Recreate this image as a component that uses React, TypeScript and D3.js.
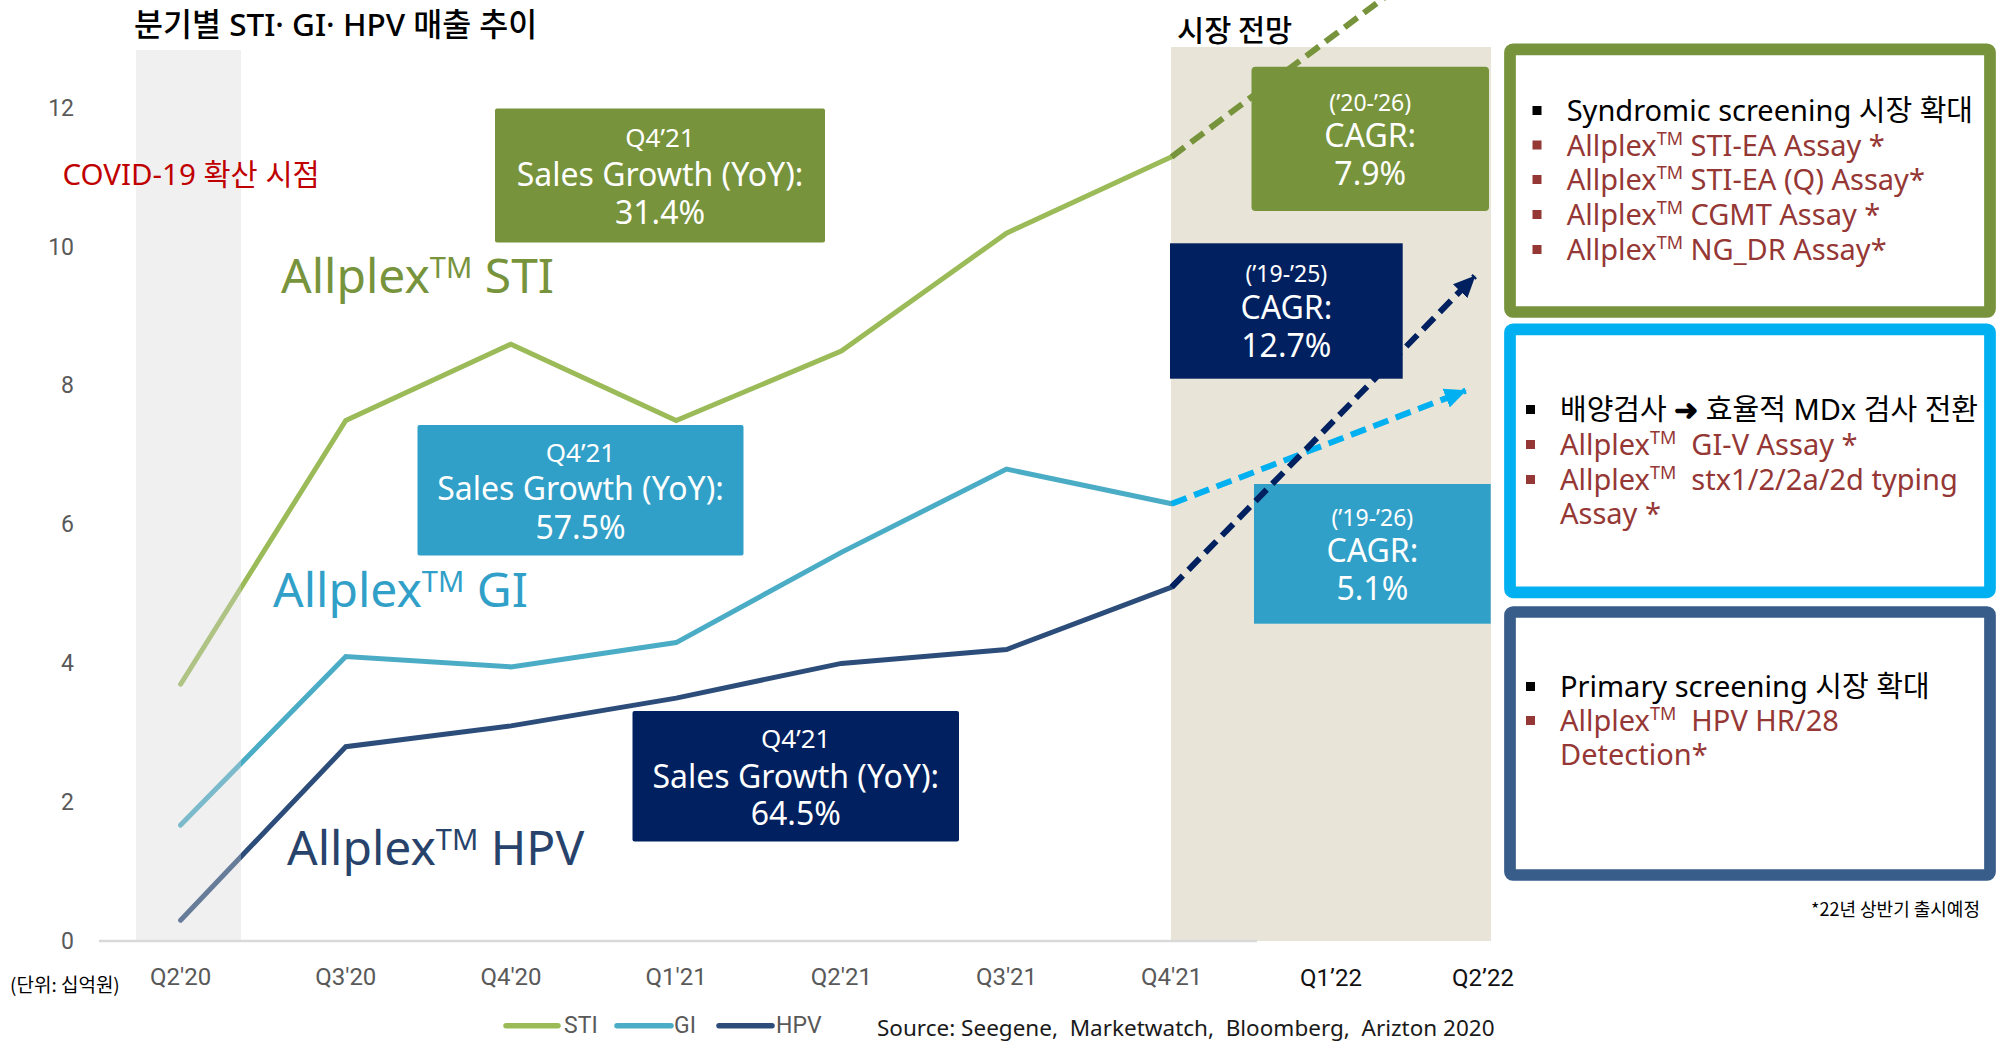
import React from "react";
import * as d3 from "d3";

// ---------------- DATA ----------------
const quarters = ["Q2'20", "Q3'20", "Q4'20", "Q1'21", "Q2'21", "Q3'21", "Q4'21"];
const forecastQuarters = ["Q1\u201922", "Q2\u201922"];
const yTicks = [0, 2, 4, 6, 8, 10, 12];

const stiSales = [3.7, 7.5, 8.6, 7.5, 8.5, 10.2, 11.3];
const giSales = [1.67, 4.1, 3.95, 4.3, 5.6, 6.8, 6.3];
const hpvSales = [0.3, 2.8, 3.1, 3.5, 4.0, 4.2, 5.1];

// forecast trend end points: [quarter index, value]
const stiForecastEnd = [7.38, 13.76];
const giForecastEnd = [7.78, 7.93];
const hpvForecastEnd = [7.835, 9.58];

const growthRates = ["31.4%", "57.5%", "64.5%"]; // STI, GI, HPV
const cagrPeriods = ["(\u201920-\u201926)", "(\u201919-\u201926)", "(\u201919-\u201925)"]; // STI, GI, HPV
const cagrRates = ["7.9%", "5.1%", "12.7%"];

const seriesNames = ["STI", "GI", "HPV"];

// ---------------- STYLE ----------------
const SANS = "'Noto Sans', 'Noto Sans CJK KR', sans-serif";
const KR = "'Noto Sans CJK KR', 'Noto Sans', sans-serif";
const AXIS = "Roboto, 'Noto Sans', sans-serif";
const OLIVE = "#77933c";
const TEAL = "#31a0c8";
const NAVY = "#002060";
const RED = "#953735";

type Part = { t: string; sup?: boolean; bold?: boolean };

function RichText(props: {
  x: number; y: number; size: number; fill: string; parts: Part[];
  supSize: number; raise: number; family?: string; weight?: number;
}) {
  const { x, y, size, fill, parts, supSize, raise, family, weight } = props;
  let prevSup = false;
  return (
    <text x={x} y={y} fontSize={size} fill={fill} fontFamily={family || SANS}
      fontWeight={weight || 400} xmlSpace="preserve" style={{ whiteSpace: "pre" }}>
      {parts.map((p, i) => {
        let dy = 0;
        if (p.sup && !prevSup) dy = -raise;
        if (!p.sup && prevSup) dy = raise;
        prevSup = !!p.sup;
        return (
          <tspan key={i} dy={dy} fontSize={p.sup ? supSize : size}
            fontWeight={p.bold ? 700 : undefined}>{p.t}</tspan>
        );
      })}
    </text>
  );
}

export default function App() {
  const x = d3.scaleLinear().domain([0, 6]).range([180.6, 1171.7]);
  const y = d3.scaleLinear().domain([0, 12]).range([941, 108.2]);

  const line = d3.line<number>().x((_, i) => x(i)).y((d) => y(d));
  const seg = d3.line<number[]>().x((d) => x(d[0])).y((d) => y(d[1]));

  const series = [
    { name: seriesNames[0], values: stiSales, color: "#9bbb59", dash: OLIVE, end: stiForecastEnd, arrow: false },
    { name: seriesNames[1], values: giSales, color: "#4bacc6", dash: "#00b0f0", end: giForecastEnd, arrow: true },
    { name: seriesNames[2], values: hpvSales, color: "#2c4d7a", dash: NAVY, end: hpvForecastEnd, arrow: true },
  ];

  const growthBoxes = [
    { x: 495, y: 108.5, w: 330, h: 134, fill: OLIVE, rate: growthRates[0], ys: [137, 173, 211] },
    { x: 417.5, y: 425, w: 326, h: 130.5, fill: TEAL, rate: growthRates[1], ys: [452, 487, 526] },
    { x: 632.5, y: 711, w: 326.5, h: 130.5, fill: NAVY, rate: growthRates[2], ys: [738, 775, 812] },
  ];

  const cagrBoxes = [
    { x: 1251.5, y: 66.7, w: 237.5, h: 144.3, fill: OLIVE, period: cagrPeriods[0], rate: cagrRates[0], ys: [101.7, 134, 172] },
    { x: 1254, y: 484, w: 236.7, h: 139.7, fill: TEAL, period: cagrPeriods[1], rate: cagrRates[1], ys: [516.7, 549, 587] },
    { x: 1170, y: 243.3, w: 232.7, h: 135.4, fill: NAVY, period: cagrPeriods[2], rate: cagrRates[2], ys: [273.3, 306, 344] },
  ];

  const seriesLabels = [
    { x: 281, y: 292.7, color: OLIVE, name: "STI" },
    { x: 273, y: 606.7, color: TEAL, name: "GI" },
    { x: 287, y: 865, color: "#27436b", name: "HPV" },
  ];

  const rightBoxes = [
    {
      x: 1510, y: 49.3, w: 480, h: 262.7, stroke: OLIVE, bx: 1537, tx: 1566.7,
      lines: [
        { color: "#000", base: 121, parts: [{ t: "Syndromic screening 시장 확대" }] },
        { color: RED, base: 155.5, parts: [{ t: "Allplex" }, { t: "TM", sup: true }, { t: " STI-EA Assay *" }] },
        { color: RED, base: 190, parts: [{ t: "Allplex" }, { t: "TM", sup: true }, { t: " STI-EA (Q) Assay*" }] },
        { color: RED, base: 225, parts: [{ t: "Allplex" }, { t: "TM", sup: true }, { t: " CGMT Assay *" }] },
        { color: RED, base: 260, parts: [{ t: "Allplex" }, { t: "TM", sup: true }, { t: " NG_DR Assay*" }] },
      ],
    },
    {
      x: 1510, y: 329.3, w: 480, h: 263, stroke: "#00b0f0", bx: 1530.5, tx: 1560,
      lines: [
        { color: "#000", base: 420, parts: [{ t: "배양검사 " }, { t: "\u279C", bold: true }, { t: " 효율적 MDx 검사 전환" }] },
        { color: RED, base: 455, parts: [{ t: "Allplex" }, { t: "TM", sup: true }, { t: "  GI-V Assay *" }] },
        { color: RED, base: 490, parts: [{ t: "Allplex" }, { t: "TM", sup: true }, { t: "  stx1/2/2a/2d typing" }] },
        { color: RED, base: 524, bullet: false, parts: [{ t: "Assay *" }] },
      ],
    },
    {
      x: 1510, y: 612, w: 480, h: 263, stroke: "#385d8a", bx: 1530.5, tx: 1560,
      lines: [
        { color: "#000", base: 697, parts: [{ t: "Primary screening 시장 확대" }] },
        { color: RED, base: 731, parts: [{ t: "Allplex" }, { t: "TM", sup: true }, { t: "  HPV HR/28" }] },
        { color: RED, base: 765, bullet: false, parts: [{ t: "Detection*" }] },
      ],
    },
  ];

  const legendItems = [
    { name: seriesNames[0], color: "#9bbb59", x1: 506, x2: 558, tx: 564 },
    { name: seriesNames[1], color: "#4bacc6", x1: 617, x2: 671, tx: 674 },
    { name: seriesNames[2], color: "#2c4d7a", x1: 719, x2: 772, tx: 776 },
  ];
  const forecastTickX = [1331, 1483];

  return (
    <div style={{ width: 2008, height: 1045 }}>
      <style>{"body{margin:0}"}</style>
      <svg width={2008} height={1045} style={{ display: "block", background: "#fff" }}>
        <defs>
          {series.filter((s) => s.arrow).map((s) => (
            <marker key={s.name} id={"arrow-" + s.name} markerUnits="userSpaceOnUse"
              markerWidth={24} markerHeight={22} refX={21} refY={11} orient="auto">
              <path d="M0,1 L22,11 L0,21 Z" fill={s.dash} />
            </marker>
          ))}
        </defs>

        {/* forecast band */}
        <rect x={x(6) - 0.7} y={47} width={320} height={894} fill="#e8e5d8" />

        {/* series lines */}
        {series.map((s) => (
          <path key={s.name} d={line(s.values) || ""} fill="none" stroke={s.color}
            strokeWidth={5} strokeLinecap="round" strokeLinejoin="miter" />
        ))}

        {/* COVID band overlay */}
        <rect x={136} y={50} width={105} height={891} fill="#d4d4d4" opacity={0.35} />

        {/* x axis line */}
        <line x1={99} x2={1257} y1={941} y2={941} stroke="#d9d9d9" strokeWidth={2.5} />

        {/* y ticks */}
        {yTicks.map((t) => (
          <text key={t} x={74} y={y(t)} textAnchor="end" dominantBaseline="central"
            fontFamily={AXIS} fontSize={23} fill="#595959">{t}</text>
        ))}

        {/* x ticks */}
        {quarters.map((q, i) => (
          <text key={q} x={x(i)} y={977} textAnchor="middle" dominantBaseline="central"
            fontFamily={AXIS} fontSize={24} fill="#595959">{q}</text>
        ))}
        {forecastQuarters.map((q, i) => (
          <text key={q} x={forecastTickX[i]} y={977.5} textAnchor="middle" dominantBaseline="central"
            fontFamily={AXIS} fontSize={24} fill="#111">{q}</text>
        ))}

        {/* growth boxes */}
        {growthBoxes.map((b, i) => (
          <g key={"g" + i}>
            <rect x={b.x} y={b.y} width={b.w} height={b.h} fill={b.fill} rx={2} />
            <text x={b.x + b.w / 2} y={b.ys[0]} textAnchor="middle" dominantBaseline="central"
              fontFamily={SANS} fontSize={26} fill="#fff">Q4{"\u2019"}21</text>
            <text x={b.x + b.w / 2} y={b.ys[1]} textAnchor="middle" dominantBaseline="central"
              fontFamily={SANS} fontSize={32} fill="#fff">Sales Growth (YoY):</text>
            <text x={b.x + b.w / 2} y={b.ys[2]} textAnchor="middle" dominantBaseline="central"
              fontFamily={SANS} fontSize={32} fill="#fff">{b.rate}</text>
          </g>
        ))}

        {/* CAGR boxes */}
        {cagrBoxes.map((b, i) => (
          <g key={"c" + i}>
            <rect x={b.x} y={b.y} width={b.w} height={b.h} fill={b.fill} rx={i === 0 ? 4 : 0} />
            <text x={b.x + b.w / 2} y={b.ys[0]} textAnchor="middle" dominantBaseline="central"
              fontFamily={SANS} fontSize={23} fill="#fff">{b.period}</text>
            <text x={b.x + b.w / 2} y={b.ys[1]} textAnchor="middle" dominantBaseline="central"
              fontFamily={SANS} fontSize={32} fill="#fff">CAGR:</text>
            <text x={b.x + b.w / 2} y={b.ys[2]} textAnchor="middle" dominantBaseline="central"
              fontFamily={SANS} fontSize={32} fill="#fff">{b.rate}</text>
          </g>
        ))}

        {/* forecast dashed trends */}
        {series.map((s) => (
          <path key={"f" + s.name}
            d={seg([[6, s.values[6]], s.end]) || ""} fill="none" stroke={s.dash}
            strokeWidth={6} strokeDasharray="16,8"
            markerEnd={s.arrow ? `url(#arrow-${s.name})` : undefined} />
        ))}

        {/* series labels */}
        {seriesLabels.map((l) => (
          <RichText key={l.name} x={l.x} y={l.y} size={48} fill={l.color} supSize={29} raise={15}
            parts={[{ t: "Allplex" }, { t: "TM", sup: true }, { t: " " + l.name }]} />
        ))}

        {/* titles and notes */}
        <text x={134} y={23} dominantBaseline="central" fontFamily={SANS} fontSize={31.5}
          fontWeight={500} fill="#000">분기별 STI· GI· HPV 매출 추이</text>
        <text x={1177} y={28} dominantBaseline="central" fontFamily={KR} fontSize={29.5}
          fontWeight={500} fill="#000">시장 전망</text>
        <text x={62.5} y={173} dominantBaseline="central" fontFamily={SANS} fontSize={29.5}
          fill="#c00000">COVID-19 확산 시점</text>
        <text x={10} y={983} dominantBaseline="central" fontFamily={KR} fontSize={19}
          fill="#000">(단위: 십억원)</text>
        <text x={1980} y={908} textAnchor="end" dominantBaseline="central" fontFamily={KR}
          fontSize={18} fill="#000">*22년 상반기 출시예정</text>
        <text x={877} y={1027} dominantBaseline="central" fontFamily={SANS} fontSize={22.5}
          fill="#1a1a1a" xmlSpace="preserve" style={{ whiteSpace: "pre" }}>Source: Seegene,  Marketwatch,  Bloomberg,  Arizton 2020</text>

        {/* legend */}
        {legendItems.map((l) => (
          <g key={"l" + l.name}>
            <line x1={l.x1} x2={l.x2} y1={1025.7} y2={1025.7} stroke={l.color} strokeWidth={5.5}
              strokeLinecap="round" />
            <text x={l.tx} y={1025.7} dominantBaseline="central" fontFamily={AXIS} fontSize={23}
              fill="#595959">{l.name}</text>
          </g>
        ))}

        {/* right boxes */}
        {rightBoxes.map((b, bi) => (
          <g key={"r" + bi}>
            <rect x={b.x} y={b.y} width={b.w} height={b.h} fill="#fff" stroke={b.stroke}
              strokeWidth={11.7} rx={3} />
            {b.lines.map((ln: any, li) => (
              <g key={li}>
                {ln.bullet !== false && (
                  <rect x={b.bx - 4.5} y={ln.base - 15} width={9} height={9} fill={ln.color} />
                )}
                <RichText x={b.tx} y={ln.base} size={29} fill={ln.color} supSize={18} raise={11}
                  parts={ln.parts} />
              </g>
            ))}
          </g>
        ))}
      </svg>
    </div>
  );
}
